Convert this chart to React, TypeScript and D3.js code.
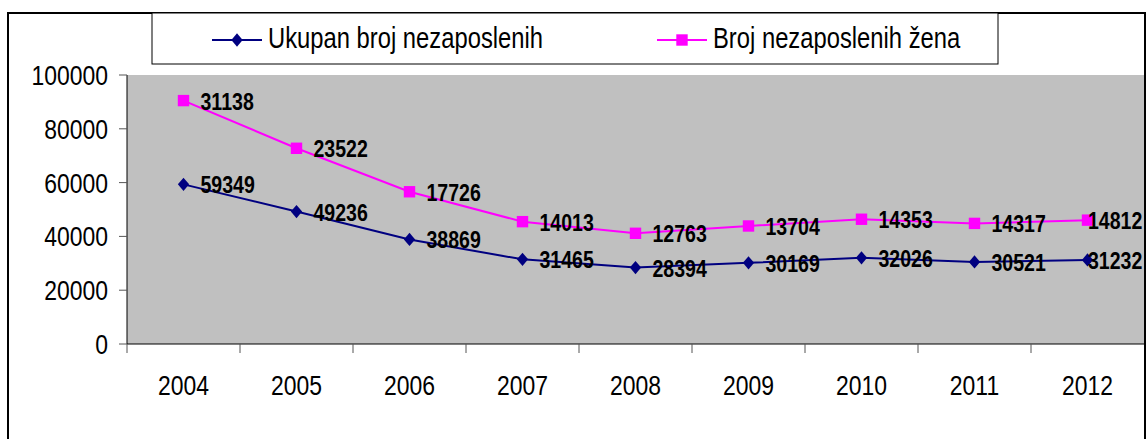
import { useEffect, useRef } from "react";
import * as d3 from "d3";

const years = ["2004", "2005", "2006", "2007", "2008", "2009", "2010", "2011", "2012"];
const totalUnemployed = [59349, 49236, 38869, 31465, 28394, 30169, 32026, 30521, 31232];
const womenUnemployed = [31138, 23522, 17726, 14013, 12763, 13704, 14353, 14317, 14812];
const yTicks = [0, 20000, 40000, 60000, 80000, 100000];
const legendLabels = ["Ukupan broj nezaposlenih", "Broj nezaposlenih žena"];

const NAVY = "#000080";
const MAGENTA = "#FF00FF";
const FONT = "'Liberation Sans', Arial, sans-serif";
const SX = 0.85; // narrow glyphs like the original

// Excel-like diamond: a bit taller than wide
const excelDiamond = {
  draw(ctx: any, size: number) {
    const h = Math.sqrt(size) * 0.72;
    const w = h * 0.85;
    ctx.moveTo(0, -h);
    ctx.lineTo(w, 0);
    ctx.lineTo(0, h);
    ctx.lineTo(-w, 0);
    ctx.closePath();
  },
};

export default function App() {
  const svgRef = useRef<SVGSVGElement>(null);

  useEffect(() => {
    if (!svgRef.current) return;
    const svg = d3.select(svgRef.current);
    svg.selectAll("*").remove();

    const width = 1147;
    const height = 439;
    const plot = { left: 127, right: 1144, top: 75, bottom: 344 };

    const x = d3.scaleBand<string>().domain(years).range([plot.left, plot.right]);
    const y = d3.scaleLinear().domain([0, 100000]).range([plot.bottom, plot.top]);

    // stacked: women series is drawn on top of the total
    const stacked = womenUnemployed.map((v, i) => v + totalUnemployed[i]);

    const cx = (i: number) => (x(years[i]) as number) + x.bandwidth() / 2;

    const narrowText = (
      g: d3.Selection<any, unknown, null, undefined>,
      tx: number,
      ty: number,
      str: string,
      size: number,
      anchor: string,
      weight = "normal"
    ) =>
      g
        .append("text")
        .attr("transform", `translate(${tx},${ty}) scale(${SX},1.04)`)
        .attr("font-family", FONT)
        .attr("font-size", size)
        .attr("font-weight", weight)
        .attr("text-anchor", anchor)
        .attr("fill", "#000")
        .text(str);

    // background and outer frame
    svg.append("rect").attr("width", width).attr("height", height).attr("fill", "#fff");

    svg
      .append("rect")
      .attr("x", plot.left)
      .attr("y", plot.top)
      .attr("width", plot.right - plot.left)
      .attr("height", plot.bottom - plot.top)
      .attr("fill", "#C0C0C0");

    svg
      .append("rect")
      .attr("x", 8)
      .attr("y", 13)
      .attr("width", 1137)
      .attr("height", 460)
      .attr("fill", "none")
      .attr("stroke", "#000")
      .attr("stroke-width", 2);

    // y axis
    const yAxis = svg.append("g");
    yAxis
      .append("line")
      .attr("x1", plot.left)
      .attr("x2", plot.left)
      .attr("y1", plot.top)
      .attr("y2", plot.bottom)
      .attr("stroke", "#000");
    yTicks.forEach((t) => {
      yAxis
        .append("line")
        .attr("x1", plot.left - 8)
        .attr("x2", plot.left)
        .attr("y1", y(t))
        .attr("y2", y(t))
        .attr("stroke", "#555");
      narrowText(yAxis, 108, y(t) + 10, String(t), 27, "end");
    });

    // x axis
    const xAxis = svg.append("g");
    xAxis
      .append("line")
      .attr("x1", plot.left)
      .attr("x2", plot.right)
      .attr("y1", plot.bottom)
      .attr("y2", plot.bottom)
      .attr("stroke", "#000");
    years.forEach((yr) => {
      const bx = x(yr) as number;
      xAxis
        .append("line")
        .attr("x1", bx)
        .attr("x2", bx)
        .attr("y1", plot.bottom)
        .attr("y2", plot.bottom + 9)
        .attr("stroke", "#555");
      narrowText(xAxis, bx + x.bandwidth() / 2, 395, yr, 27, "middle");
    });

    const line = d3
      .line<number>()
      .x((_, i) => cx(i))
      .y((d) => y(d));

    // total series
    svg
      .append("path")
      .datum(totalUnemployed)
      .attr("fill", "none")
      .attr("stroke", NAVY)
      .attr("stroke-width", 2)
      .attr("d", line);

    // women series
    svg
      .append("path")
      .datum(stacked)
      .attr("fill", "none")
      .attr("stroke", MAGENTA)
      .attr("stroke-width", 2)
      .attr("d", line);

    const diamond = d3.symbol().type(excelDiamond as any).size(85);
    const square = d3.symbol().type(d3.symbolSquare).size(130);

    totalUnemployed.forEach((v, i) => {
      svg
        .append("path")
        .attr("d", diamond)
        .attr("transform", `translate(${cx(i)},${y(v)})`)
        .attr("fill", NAVY);
    });
    stacked.forEach((v, i) => {
      svg
        .append("path")
        .attr("d", square)
        .attr("transform", `translate(${cx(i)},${y(v)})`)
        .attr("fill", MAGENTA);
    });

    // data labels (actual values, not stacked)
    const labelW = 56;
    const labels = svg.append("g");
    totalUnemployed.forEach((v, i) => {
      const lx = Math.min(cx(i) + 17, plot.right - labelW);
      narrowText(labels, lx, y(v) + 9, String(v), 23, "start", "bold");
    });
    womenUnemployed.forEach((v, i) => {
      const lx = Math.min(cx(i) + 17, plot.right - labelW);
      narrowText(labels, lx, y(stacked[i]) + 9, String(v), 23, "start", "bold");
    });

    // legend
    const legend = svg.append("g");
    legend
      .append("rect")
      .attr("x", 152)
      .attr("y", 13)
      .attr("width", 846)
      .attr("height", 51)
      .attr("fill", "#fff")
      .attr("stroke", "#000")
      .attr("stroke-width", 1);

    const items = [
      { label: legendLabels[0], color: NAVY, sym: diamond, x0: 212 },
      { label: legendLabels[1], color: MAGENTA, sym: square, x0: 657 },
    ];
    items.forEach((it) => {
      legend
        .append("line")
        .attr("x1", it.x0)
        .attr("x2", it.x0 + 50)
        .attr("y1", 40)
        .attr("y2", 40)
        .attr("stroke", it.color)
        .attr("stroke-width", 2);
      legend
        .append("path")
        .attr("d", it.sym)
        .attr("transform", `translate(${it.x0 + 25},40)`)
        .attr("fill", it.color);
      narrowText(legend, it.x0 + 56, 48, it.label, 28, "start");
    });
  }, []);

  return (
    <div style={{ position: "absolute", left: 0, top: 0 }}>
      <svg ref={svgRef} width={1147} height={439} style={{ display: "block" }} />
    </div>
  );
}
